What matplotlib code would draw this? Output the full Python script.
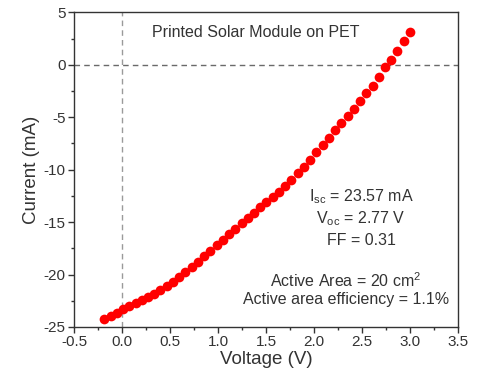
import matplotlib
matplotlib.use('Agg')
import matplotlib.pyplot as plt
from matplotlib.ticker import MultipleLocator

voltage = [-0.185, -0.12, -0.055, 0.01, 0.075, 0.14, 0.205, 0.27, 0.335, 0.40,
           0.465, 0.53, 0.595, 0.66, 0.725, 0.79, 0.855, 0.92, 0.985, 1.05,
           1.115, 1.18, 1.245, 1.31, 1.375, 1.44, 1.505, 1.57, 1.635, 1.70,
           1.765, 1.83, 1.895, 1.96, 2.025, 2.09, 2.155, 2.22, 2.285, 2.35,
           2.415, 2.48, 2.545, 2.61, 2.675, 2.74, 2.805, 2.87, 2.935, 3.00]
current = [-24.25, -23.98, -23.65, -23.30, -23.02, -22.75, -22.47, -22.16, -21.84, -21.50,
           -21.10, -20.67, -20.23, -19.77, -19.28, -18.78, -18.26, -17.74, -17.20, -16.68,
           -16.15, -15.63, -15.10, -14.60, -14.10, -13.60, -13.10, -12.60, -12.10, -11.55,
           -10.95, -10.35, -9.70, -9.05, -8.35, -7.65, -6.95, -6.20, -5.55, -4.90,
           -4.25, -3.45, -2.70, -2.00, -1.15, -0.20, 0.50, 1.34, 2.25, 3.10]

title = "Printed Solar Module on PET"
stats = [r"I$_{\mathregular{sc}}$ = 23.57 mA",
         r"V$_{\mathregular{oc}}$ = 2.77 V",
         "FF = 0.31"]
area_lines = [r"Active Area = 20 cm$^{\mathregular{2}}$",
              "Active area efficiency = 1.1%"]

plt.rcParams['font.family'] = ['Liberation Sans', 'DejaVu Sans']
plt.rcParams['mathtext.fontset'] = 'custom'
plt.rcParams['mathtext.rm'] = 'Liberation Sans'
plt.rcParams['axes.unicode_minus'] = False

fig = plt.figure(figsize=(4.78, 3.8), dpi=100)
ax = fig.add_axes([0.155, 0.1395, 0.803, 0.828])

ax.axhline(0, color='#6a6a6a', lw=1, ls=(0, (4, 3)), zorder=1)
ax.axvline(0, color='#9a9a9a', lw=1, ls=(0, (4, 3)), zorder=1)

ax.plot(voltage, current, 'o', color='#ff0000', markersize=7, markeredgewidth=0, zorder=3)

ax.set_xlim(-0.5, 3.5)
ax.set_ylim(-25, 5)
ax.xaxis.set_major_locator(MultipleLocator(0.5))
ax.xaxis.set_minor_locator(MultipleLocator(0.25))
ax.yaxis.set_major_locator(MultipleLocator(5))
ax.yaxis.set_minor_locator(MultipleLocator(2.5))
ax.tick_params(which='major', direction='out', length=4, width=1, pad=2,
               labelsize=11, color='#333333', labelcolor='#333333')
ax.tick_params(which='minor', direction='out', length=2.5, width=1, color='#333333')
for s in ax.spines.values():
    s.set_linewidth(1)
    s.set_color('#333333')

ax.set_xlabel("Voltage (V)", fontsize=13.5, color='#333333', labelpad=1)
ax.set_ylabel("Current (mA)", fontsize=13.5, color='#333333', labelpad=3)

ax.text(1.39, 3.05, title, fontsize=11.5, ha='center', va='center', color='#333333')
for i, s in enumerate(stats):
    ax.text(2.49, -12.6 - 2.1 * i, s, fontsize=11.5, ha='center', va='center', color='#333333')
for i, s in enumerate(area_lines):
    ax.text(2.33, -20.6 - 1.75 * i, s, fontsize=11.5, ha='center', va='center', color='#333333')

fig.savefig('out.png', dpi=100)
